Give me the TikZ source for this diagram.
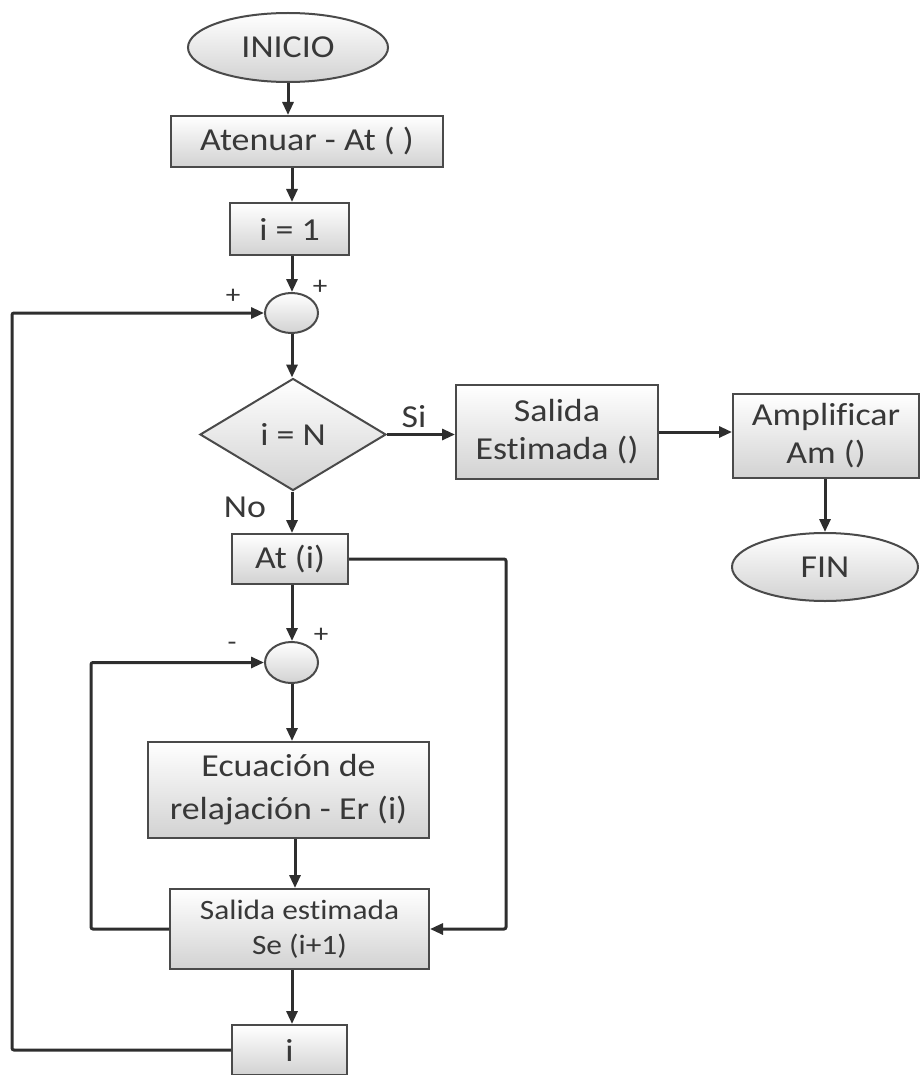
\documentclass[tikz,border=0pt]{standalone}
\usepackage{fontspec}
\setmainfont{Carlito}[FakeStretch=1.12,Ligatures=NoCommon]
\usetikzlibrary{shapes.geometric,arrows.meta,calc}
\definecolor{txt}{HTML}{383838}
\definecolor{bord}{HTML}{4A4A4A}
\definecolor{ln}{HTML}{2E2E2E}
\definecolor{shadebot}{HTML}{D2D2D2}
\begin{document}
\begin{tikzpicture}[x=1pt,y=-1pt,
  base/.style={draw=bord, line width=2pt, top color=white, bottom color=shadebot,
    text=txt, inner sep=0pt, font=\fontsize{32}{38}\selectfont, align=center},
  box/.style={base, rectangle},
  term/.style={base, ellipse},
  sumc/.style={base, ellipse},
  dec/.style={base, diamond, aspect=1.66},
  arr/.style={draw=ln, line width=3pt, -{Triangle[length=13pt,width=11pt]}},
  lbl/.style={text=txt, font=\fontsize{32}{38}\selectfont, inner sep=0pt},
  sgn/.style={text=txt, font=\fontsize{26}{30}\selectfont, inner sep=0pt}]

\useasboundingbox (0,0) rectangle (922,1075);

% nodes
\node[term, minimum width=200pt, minimum height=69pt] (ini) at (288,47.5) {INICIO};
\node[box, minimum width=272pt, minimum height=51pt] (at) at (307,141.5) {Atenuar - At ( )};
\node[box, minimum width=119pt, minimum height=52pt] (i1) at (289.5,229) {i = 1};
\node[sumc, minimum width=53pt, minimum height=40pt] (c1) at (291.5,313) {};
\node[dec, minimum width=186pt, minimum height=112pt] (dia) at (293,434.5) {i = N};
\node[box, minimum width=202pt, minimum height=94pt] (se) at (557,432) {Salida\\Estimada ()};
\node[box, minimum width=186pt, minimum height=84pt] (am) at (826,436) {Amplificar\\Am ()};
\node[term, minimum width=186pt, minimum height=68pt] (fin) at (825,567) {FIN};
\node[box, minimum width=116pt, minimum height=50pt] (ati) at (290,559) {At (i)};
\node[sumc, minimum width=53pt, minimum height=41pt] (c2) at (291.5,662.5) {};
\node[box, minimum width=281pt, minimum height=96pt] (ec) at (288.5,790) {Ecuación de\\[5pt]relajación - Er (i)};
\node[box, minimum width=259pt, minimum height=80pt, font=\fontsize{28}{35}\selectfont] (sest) at (299.5,929) {Salida estimada\\Se (i+1)};
\node[box, minimum width=115pt, minimum height=50pt] (ib) at (289.5,1050) {i};

% labels
\node[sgn] (p1) at (233,296) {+};
\node[sgn] (p2) at (320,287) {+};
\node[lbl] (si) at (414,417) {Si};
\node[lbl] (no) at (245,507) {No};
\node[sgn] (m3) at (232,646) {-};
\node[sgn] (p4) at (321,635) {+};

% helper coordinates
\coordinate (col) at (292,0);
\coordinate (r1) at (506,0);
\coordinate (l2) at (91,0);
\coordinate (l1) at (12,0);

% connectors
\draw[arr] (ini.south) -- (ini.south |- at.north);
\draw[arr] (col |- at.south) -- (col |- i1.north);
\draw[arr] (col |- i1.south) -- (col |- c1.north);
\draw[arr] (col |- c1.south) -- (col |- dia.north);
\draw[arr] (dia.east) -- (dia.east -| se.west);
\draw[arr] (se.east) -- (se.east -| am.west);
\draw[arr] (am.south -| fin.north) -- (fin.north);
\draw[arr] (col |- dia.south) -- (col |- ati.north);
\draw[arr] (col |- ati.south) -- (col |- c2.north);
\draw[arr] (col |- c2.south) -- (col |- ec.north);
\draw[arr] ($(col |- ec.south)+(3,0)$) -- ($(col |- sest.north)+(3,0)$);
\draw[arr] (col |- sest.south) -- (col |- ib.north);
\draw[arr, rounded corners=2pt] (ati.east) -- (ati.east -| r1) |- (sest.east);
\draw[arr, rounded corners=2pt] (sest.west) -- (sest.west -| l2) |- (c2.west);
\draw[arr, rounded corners=2pt] (ib.west) -- (ib.west -| l1) |- (c1.west);
\end{tikzpicture}
\end{document}
